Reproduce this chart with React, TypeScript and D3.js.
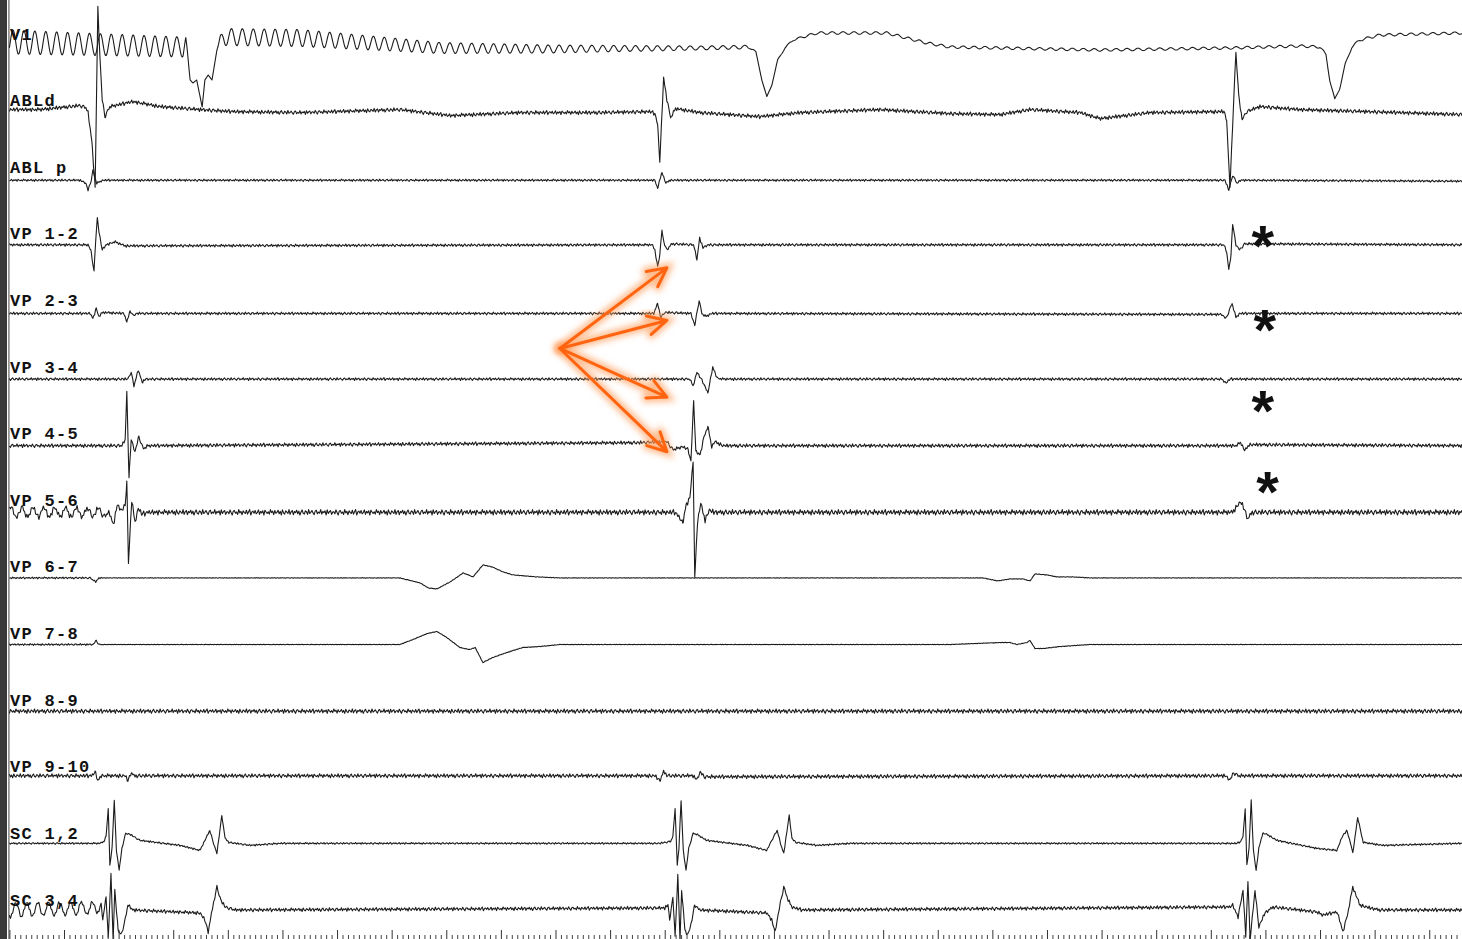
import * as d3 from 'd3'
import { useEffect, useRef } from 'react'

const width = 1462
const height = 939
const plotLeft = 9.4
const sweepMs = 2660 // 100 ms per major tick

const channels = [
  'V1', 'ABLd', 'ABL p', 'VP 1-2', 'VP 2-3', 'VP 3-4', 'VP 4-5',
  'VP 5-6', 'VP 6-7', 'VP 7-8', 'VP 8-9', 'VP 9-10', 'SC 1,2', 'SC 3,4',
]

// key points: [time ms, amplitude a.u.]
const v1Trace = [
  [0, 3], [318, -2], [323, 5], [331, -35], [336, -38], [343, -35], [353, -62], [358, -35],
  [364, -30], [371, -35], [380, -5], [386, 5], [393, 8], [532, 7], [715, 0], [789, -3],
  [990, -4], [1265, -3], [1356, -2], [1367, -7], [1378, -35], [1387, -52], [1396, -40],
  [1407, -15], [1420, -3], [1435, 5], [1453, 8], [1479, 12], [1607, 12], [1643, 7],
  [1680, 2], [1722, -2], [1997, -5], [2235, -3], [2363, -1], [2400, -2], [2411, -10],
  [2418, -35], [2427, -55], [2436, -43], [2446, -20], [2458, -2], [2473, 5], [2510, 10],
  [2660, 12],
]
const abldTrace = [
  [0, 2], [56, 2], [129, 6], [140, 4], [144, -1], [151, -30], [157, -76], [162, 104],
  [166, 52], [170, 12], [175, -5], [184, 5], [226, 10], [276, 5], [349, 2], [410, 0],
  [532, -1], [715, 2], [807, -4], [935, -1], [1081, -1], [1173, 0], [1182, -2], [1187, -13],
  [1191, -50], [1198, 34], [1204, 12], [1211, -6], [1220, 3], [1264, -1], [1374, -5],
  [1448, -1], [1594, 2], [1722, -2], [1814, -3], [1869, 2], [1961, -1], [1997, -7],
  [2089, -1], [2224, 0], [2229, -8], [2235, -76], [2240, -13], [2246, 60], [2251, 17],
  [2257, -8], [2266, 0], [2290, 5], [2363, 2], [2546, -1], [2660, -3],
]
const ablpTrace = [
  [0, -2], [129, -2], [140, -5], [144, -12], [149, -4], [153, 8], [157, 0], [160, -5],
  [171, -2], [1182, -2], [1187, -10], [1195, 6], [1202, -5], [1209, -2], [2226, -2],
  [2233, -12], [2240, 3], [2248, -5], [2255, -2], [2660, -3],
]
const vp12Trace = [
  [0, 0], [144, 0], [149, -5], [155, -27], [158, 5], [161, 27], [164, 13], [170, -5],
  [177, 0], [193, 3], [212, -1], [1177, 0], [1182, -5], [1187, -22], [1191, -10],
  [1195, 15], [1198, 3], [1204, -5], [1213, 1], [1253, 0], [1259, -15], [1264, 7],
  [1270, -3], [1279, 0], [2224, 0], [2229, -7], [2233, -25], [2237, -10], [2240, 21],
  [2246, 0], [2253, -5], [2262, 1], [2660, 0],
]
const vp23Trace = [
  [0, -2], [148, -2], [153, -7], [159, 3], [164, -5], [171, -1], [210, -2], [215, -11],
  [221, 1], [226, -4], [234, -2], [1180, -2], [1187, 8], [1193, -6], [1200, -1],
  [1248, -2], [1255, -14], [1263, 11], [1268, -2], [1275, -5], [1286, -2], [2220, -3],
  [2228, -7], [2239, 8], [2246, -6], [2253, -2], [2660, -2],
]
const vp34Trace = [
  [0, -1], [217, -1], [223, 6], [228, -8], [236, 8], [243, -4], [250, -1], [1246, -1],
  [1252, -8], [1259, 6], [1270, -4], [1279, -15], [1288, 11], [1296, 0], [1305, -1],
  [2220, -1], [2228, -5], [2235, -1], [2660, -1],
]
const vp45Trace = [
  [0, -1], [206, -1], [212, 5], [215, 53], [219, -33], [223, 5], [230, -7], [237, 8],
  [245, -4], [254, -1], [1155, 2], [1204, 3], [1215, -5], [1233, -2], [1243, -5],
  [1248, -17], [1253, 44], [1257, -7], [1265, -10], [1272, 8], [1279, 18], [1286, -2],
  [1292, 3], [1307, -1], [2246, -1], [2255, 2], [2262, -6], [2270, 0], [2660, -1],
]
const vp56Trace = [
  [0, -1], [175, -1], [190, -11], [197, 6], [206, 1], [212, 6], [215, 31], [218, -54],
  [221, -19], [224, 11], [230, -11], [236, 3], [243, -3], [254, -1], [1219, -1],
  [1228, -7], [1233, -12], [1239, 6], [1246, 13], [1252, 51], [1255, -67], [1260, -11],
  [1266, 8], [1274, -9], [1281, 1], [1290, -1], [2239, -1], [2244, 2], [2250, 7],
  [2255, 9], [2260, 4], [2268, -8], [2275, -1], [2660, -1],
]
const vp67Trace = [
  [0, 0], [148, 0], [158, -4], [164, 0], [679, 0], [715, 0], [752, -5], [767, -10],
  [783, -11], [807, -4], [831, 5], [849, 1], [867, 13], [884, 11], [904, 6], [922, 3],
  [966, 1], [1008, 0], [1722, 0], [1783, 0], [1810, -3], [1832, -1], [1856, -1],
  [1869, -3], [1878, 4], [1900, 3], [1918, 1], [1947, 1], [1979, 0], [2660, 0],
]
const vp78Trace = [
  [0, 0], [153, 0], [159, 4], [164, 0], [715, 0], [739, 5], [765, 11], [783, 13],
  [801, 7], [825, -3], [843, -5], [853, -3], [867, -18], [885, -13], [911, -8], [940, -3],
  [971, -2], [1008, 0], [1722, 0], [1814, 2], [1832, 2], [1845, 0], [1863, 2], [1869, 4],
  [1878, -4], [1893, -4], [1924, -2], [1951, -1], [1979, 0], [2660, 0],
]
const vp89Trace = [[0, 0], [2660, 0]]
const vp910Trace = [
  [0, 2], [151, 2], [157, 6], [162, -3], [168, 2], [212, 2], [217, -3], [223, 5],
  [228, 2], [1182, 2], [1191, -3], [1198, 6], [1206, 2], [1252, 2], [1259, -2],
  [1265, 6], [1272, 1], [2226, 2], [2235, -2], [2242, 5], [2250, 2], [2660, 2],
]
const sc12Trace = [
  [0, 1], [166, 1], [173, 3], [177, 8], [181, 36], [184, -21], [188, -4], [192, 44],
  [196, -6], [201, -26], [206, -4], [213, 11], [221, 10], [239, 4], [312, -1], [349, -6],
  [358, 4], [367, 14], [375, -1], [380, -9], [389, 29], [395, 6], [402, 2], [441, -1],
  [495, 1], [1191, 1], [1211, 3], [1215, 8], [1219, 36], [1223, -21], [1226, -4],
  [1230, 44], [1234, -6], [1239, -26], [1244, -4], [1252, 11], [1259, 10], [1277, 4],
  [1351, -1], [1387, -6], [1396, 4], [1406, 14], [1413, -1], [1418, -9], [1428, 29],
  [1433, 6], [1440, 2], [1479, -1], [1539, 1], [2248, 1], [2255, 3], [2259, 8],
  [2263, 36], [2266, -21], [2270, -4], [2274, 44], [2278, -6], [2283, -26], [2288, -4],
  [2295, 11], [2303, 10], [2321, 4], [2394, -4], [2431, -6], [2440, 7], [2449, 14],
  [2457, -1], [2460, -9], [2469, 27], [2479, 2], [2515, -1], [2660, 1],
]
const sc34Trace = [
  [0, 1], [162, 3], [168, 6], [171, -9], [177, 14], [181, -26], [186, 36], [190, -29],
  [193, 21], [199, -19], [204, -24], [210, -14], [217, 6], [226, 1], [349, -2], [358, -9],
  [364, -21], [373, 6], [380, 24], [387, 11], [395, 4], [413, 1], [1200, 3], [1206, 6],
  [1209, -9], [1215, 14], [1219, -26], [1224, 36], [1228, -29], [1231, 21], [1237, -19],
  [1242, -24], [1248, -14], [1255, 6], [1264, 1], [1387, -2], [1396, -9], [1402, -21],
  [1411, 6], [1418, 24], [1426, 11], [1433, 4], [1451, 1], [2235, 4], [2240, 6],
  [2250, -6], [2259, 21], [2264, -26], [2268, 31], [2272, -29], [2275, -12], [2281, 21],
  [2288, -16], [2299, -2], [2314, 4], [2394, -1], [2405, -4], [2431, -1], [2436, -9],
  [2442, -21], [2451, -2], [2460, 24], [2473, 6], [2491, 3], [2510, 1], [2660, 1],
]

// baseline noise level per channel: [time ms, amplitude]
const flat = (a: number) => [[0, a], [sweepMs, a]]
const noiseLevels = [
  flat(0), flat(2.2), flat(1.2), flat(1.5), flat(1.5), flat(1.5), flat(2), flat(3),
  [[0, 1], [160, 1], [175, 0.3], [2660, 0.3]],
  [[0, 1], [160, 1], [175, 0.3], [2660, 0.3]],
  flat(2.4), flat(2.2), flat(1), flat(2),
]
// 50 Hz mains hum amplitude: [time ms, amplitude]
const v1Hum = [
  [0, 12], [318, 10], [330, 0], [380, 0], [393, 8.5], [532, 8.5], [789, 5.5], [1100, 3.2],
  [1265, 2], [1356, 1.8], [1367, 0.3], [1480, 1.3], [2660, 1.2],
]
const vp56Hum = [[0, 5], [190, 4], [200, 0], [2660, 0]]
const sc34Hum = [[0, 7], [160, 6], [172, 0], [2660, 0]]

// recorded noise template
const noiseTemplate = [
  0.2, -0.5, 0.8, -0.1, -0.9, 0.4, 0.6, -0.3, 0.1, -0.7, 0.9, -0.2, 0.3, -0.8, 0.5, 0.0,
  -0.4, 0.7, -0.6, 0.2, 0.9, -0.9, 0.1, 0.4, -0.3, 0.6, -0.5, -0.1, 0.8, -0.7, 0.3, -0.2,
  0.5, -0.9, 0.7, 0.1, -0.4, 0.2, -0.6, 0.9, -0.1, 0.4, -0.8, 0.6, -0.3, 0.0, 0.7, -0.5,
  0.3, -0.9, 0.8, -0.2, -0.6, 0.5, 0.1, -0.4, 0.9, -0.7, 0.2, 0.6, -0.8, 0.3, -0.1, 0.7,
  -0.5, 0.4, -0.9, 0.1, 0.8, -0.3, -0.6, 0.5, 0.2, -0.7, 0.9, -0.4, 0.0, 0.6, -0.2, -0.8,
  0.4, 0.7, -0.5, 0.1, -0.3, 0.9, -0.6, 0.3, -0.1, 0.5, -0.9, 0.8, -0.4, 0.2, 0.6, -0.7, 0.1,
]

// annotations
const arrowOrigin = { channel: 'VP 2-3', t: 1008, v: -37 }
const arrowTargets = [
  { channel: 'VP 1-2', t: 1204, v: -23 },
  { channel: 'VP 2-3', t: 1204, v: -9 },
  { channel: 'VP 3-4', t: 1204, v: -19 },
  { channel: 'VP 4-5', t: 1204, v: -7 },
]
const asterisks = [
  { channel: 'VP 1-2', t: 2295, v: 8 },
  { channel: 'VP 2-3', t: 2299, v: -10 },
  { channel: 'VP 3-4', t: 2295, v: -24 },
  { channel: 'VP 4-5', t: 2304, v: -38 },
]

const traces = [
  v1Trace, abldTrace, ablpTrace, vp12Trace, vp23Trace, vp34Trace, vp45Trace,
  vp56Trace, vp67Trace, vp78Trace, vp89Trace, vp910Trace, sc12Trace, sc34Trace,
]
const hums: Record<string, { amp: number[][]; phase: number }> = {
  V1: { amp: v1Hum, phase: 6.6 },
  'VP 5-6': { amp: vp56Hum, phase: 3 },
  'SC 3,4': { amp: sc34Hum, phase: 12 },
}

const piecewise = (pts: number[][]) =>
  d3.scaleLinear(pts.map(p => p[0]), pts.map(p => p[1])).clamp(true)

export default function App() {
  const ref = useRef<SVGSVGElement>(null)

  useEffect(() => {
    document.body.style.margin = '0'
    const svg = d3.select(ref.current)
    svg.selectAll('*').remove()

    const x = d3.scaleLinear([0, sweepMs], [plotLeft, width])
    const base = d3.scalePoint(channels, [45, 911])
    const gain = 1 // px per a.u.
    const yOf = (ch: string) => {
      const b = base(ch) as number
      return d3.scaleLinear([-1, 1], [b + gain, b - gain])
    }

    const N = noiseTemplate.length
    const noiseAt = (t: number, k: number) => {
      const idx = t / 2 + k * 13
      const i0 = Math.floor(idx)
      const f = idx - i0
      return noiseTemplate[i0 % N] * (1 - f) + noiseTemplate[(i0 + 1) % N] * f
    }

    const times = d3.range(0, sweepMs + 1, 1)

    // left frame
    svg.append('rect').attr('x', 0).attr('y', 0).attr('width', 7).attr('height', height).attr('fill', '#3a3a3a')
    svg.append('line').attr('x1', plotLeft - 0.5).attr('x2', plotLeft - 0.5).attr('y1', 0).attr('y2', height)
      .attr('stroke', '#7a7a7a').attr('stroke-width', 1.4)

    const traceG = svg.append('g')
    channels.forEach((ch, k) => {
      const y = yOf(ch)
      const sig = piecewise(traces[k])
      const nl = piecewise(noiseLevels[k])
      const hum = hums[ch]
      const humAmp = hum ? piecewise(hum.amp) : null
      const line = d3.line<number>()
        .x(t => x(t))
        .y(t => {
          let v = sig(t) + nl(t) * noiseAt(t, k)
          if (humAmp) v += humAmp(t) * Math.cos((2 * Math.PI * (t - hum.phase)) / 20)
          return y(v)
        })
      traceG.append('path')
        .attr('d', line(times))
        .attr('fill', 'none')
        .attr('stroke', '#1c1c1c')
        .attr('stroke-width', 1.1)
        .attr('stroke-linejoin', 'round')
    })

    // channel labels
    svg.append('g')
      .selectAll('text')
      .data(channels)
      .join('text')
      .attr('x', plotLeft + 0.5)
      .attr('y', d => (base(d) as number) - 5.5)
      .attr('font-family', '"Liberation Mono", "DejaVu Sans Mono", monospace')
      .attr('font-weight', 'bold')
      .attr('font-size', 17)
      .attr('letter-spacing', 1.3)
      .attr('fill', '#111')
      .text(d => d)

    // time ticks along the bottom
    const minor = d3.range(0, sweepMs + 1, 10).filter(t => t % 100 !== 0)
    const major = d3.range(0, sweepMs + 1, 100)
    svg.append('g')
      .attr('transform', `translate(0,${height})`)
      .call(d3.axisTop(x).tickValues(minor).tickSize(4).tickFormat(() => ''))
      .call(g => g.select('.domain').remove())
      .call(g => g.selectAll('line').attr('stroke', '#444'))
    svg.append('g')
      .attr('transform', `translate(0,${height})`)
      .call(d3.axisTop(x).tickValues(major).tickSize(9).tickFormat(() => ''))
      .call(g => g.select('.domain').remove())
      .call(g => g.selectAll('line').attr('stroke', '#333'))

    // orange arrows
    const defs = svg.append('defs')
    defs.append('filter').attr('id', 'glow').attr('x', '-20%').attr('y', '-20%').attr('width', '140%').attr('height', '140%')
      .append('feGaussianBlur').attr('stdDeviation', 3)
    const ox = x(arrowOrigin.t)
    const oy = yOf(arrowOrigin.channel)(arrowOrigin.v)
    const arrowPath = (a: { channel: string; t: number; v: number }) => {
      const tx = x(a.t)
      const ty = yOf(a.channel)(a.v)
      const ang = Math.atan2(oy - ty, ox - tx)
      const len = 21
      const spread = (27 * Math.PI) / 180
      const a1 = [tx + len * Math.cos(ang + spread), ty + len * Math.sin(ang + spread)]
      const a2 = [tx + len * Math.cos(ang - spread), ty + len * Math.sin(ang - spread)]
      return `M${ox},${oy}L${tx},${ty}M${a1[0]},${a1[1]}L${tx},${ty}L${a2[0]},${a2[1]}`
    }
    const arrowG = svg.append('g')
    arrowG.selectAll('path.glow')
      .data(arrowTargets)
      .join('path')
      .attr('class', 'glow')
      .attr('d', arrowPath)
      .attr('fill', 'none')
      .attr('stroke', '#ffa060')
      .attr('stroke-opacity', 0.7)
      .attr('stroke-width', 9)
      .attr('stroke-linecap', 'round')
      .attr('filter', 'url(#glow)')
    arrowG.selectAll('path.main')
      .data(arrowTargets)
      .join('path')
      .attr('class', 'main')
      .attr('d', arrowPath)
      .attr('fill', 'none')
      .attr('stroke', '#ff6410')
      .attr('stroke-width', 3)
      .attr('stroke-linecap', 'round')
      .attr('stroke-linejoin', 'round')

    // asterisks
    svg.append('g')
      .selectAll('text')
      .data(asterisks)
      .join('text')
      .attr('x', d => x(d.t))
      .attr('y', d => yOf(d.channel)(d.v) + 29)
      .attr('text-anchor', 'middle')
      .attr('font-family', '"Liberation Sans", Arial, sans-serif')
      .attr('font-weight', 'bold')
      .attr('font-size', 58)
      .attr('fill', '#111')
      .text('*')
  }, [])

  return (
    <svg
      ref={ref}
      width={width}
      height={height}
      viewBox={`0 0 ${width} ${height}`}
      style={{ display: 'block', background: '#fff' }}
    />
  )
}
